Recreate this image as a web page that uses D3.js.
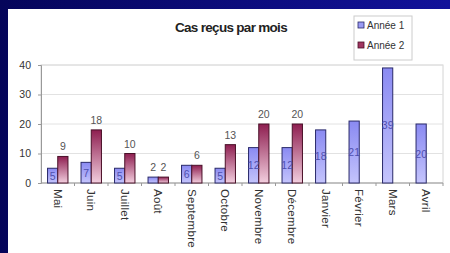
<!DOCTYPE html>
<html>
<head>
<meta charset="utf-8">
<script src="https://cdn.jsdelivr.net/npm/d3@7"></script>
<style>
  html, body { margin: 0; padding: 0; background: #0b0b78; }
  svg { display: block; font-family: "Liberation Sans", Arial, sans-serif; }
</style>
</head>
<body>
<svg id="chart" width="450" height="253"></svg>
<script>
var mois = ['Mai', 'Juin', 'Juillet', 'Août', 'Septembre', 'Octobre', 'Novembre',
            'Décembre', 'Janvier', 'Février', 'Mars', 'Avril'];
var annee1 = [5, 7, 5, 2, 6, 5, 12, 12, 18, 21, 39, 20];
var annee2 = [9, 18, 10, 2, 6, 13, 20, 20, null, null, null, null];
var series = ['Année 1', 'Année 2'];
var yTicks = [0, 10, 20, 30, 40];

var margin = {top: 65, right: 7, bottom: 70, left: 41},
    width = 450 - margin.left - margin.right,
    height = 253 - margin.top - margin.bottom;

var svg = d3.select('#chart');

// background: dark blue frame + white slide
var defs = svg.append('defs');
var bg = defs.append('linearGradient').attr('id', 'bg').attr('x1', 0).attr('y1', 0).attr('x2', 1).attr('y2', 0);
bg.append('stop').attr('offset', '0%').attr('stop-color', '#05055a');
bg.append('stop').attr('offset', '100%').attr('stop-color', '#12129a');
svg.append('rect').attr('width', 450).attr('height', 253).attr('fill', 'url(#bg)');
svg.append('rect').attr('x', 8).attr('y', 9).attr('width', 442).attr('height', 244).attr('fill', '#fff');

var gBlue = defs.append('linearGradient').attr('id', 'gBlue').attr('x1', 0).attr('y1', 0).attr('x2', 0).attr('y2', 1);
gBlue.append('stop').attr('offset', '0%').attr('stop-color', '#8a8af2');
gBlue.append('stop').attr('offset', '100%').attr('stop-color', '#c4c4fc');
var gRed = defs.append('linearGradient').attr('id', 'gRed').attr('x1', 0).attr('y1', 0).attr('x2', 0).attr('y2', 1);
gRed.append('stop').attr('offset', '0%').attr('stop-color', '#8e1e50');
gRed.append('stop').attr('offset', '100%').attr('stop-color', '#f2cede');

var x = d3.scaleBand().domain(mois).range([0, width]).padding(0);
var x1 = d3.scaleBand().domain(series).range([0, x.bandwidth()]).paddingInner(0).paddingOuter(0.64);
var y = d3.scaleLinear().domain([0, 40]).range([height, 0]);

var g = svg.append('g').attr('transform', 'translate(' + margin.left + ',' + margin.top + ')');

// plot area border + gridlines
g.append('rect').attr('width', width).attr('height', height)
  .attr('fill', 'none').attr('stroke', '#d4d4d4');
g.append('g')
  .selectAll('line')
  .data(yTicks.slice(1))
  .enter().append('line')
    .attr('x1', 0).attr('x2', width)
    .attr('y1', function(d) { return y(d); })
    .attr('y2', function(d) { return y(d); })
    .attr('stroke', '#e2e2e2');

// y axis
var yAxis = g.append('g')
  .call(d3.axisLeft(y).tickValues(yTicks).tickSize(3).tickPadding(7));
yAxis.select('.domain').attr('stroke', '#999');
yAxis.selectAll('.tick line').attr('stroke', '#999');
yAxis.selectAll('.tick text').attr('font-size', 10.5).attr('fill', '#333')
  .attr('font-family', '"Liberation Sans", Arial, sans-serif');

// x axis line and boundary ticks
g.append('line').attr('x1', 0).attr('x2', width).attr('y1', height).attr('y2', height).attr('stroke', '#999');
g.append('g')
  .selectAll('line')
  .data(mois)
  .enter().append('line')
    .attr('x1', function(d) { return x(d) + x.bandwidth(); })
    .attr('x2', function(d) { return x(d) + x.bandwidth(); })
    .attr('y1', height).attr('y2', height + 3)
    .attr('stroke', '#999');

// bars
var rows = mois.map(function(m, i) { return {mois: m, v: [annee1[i], annee2[i]]}; });
var groups = g.selectAll('.grp')
  .data(rows)
  .enter().append('g')
    .attr('transform', function(d) { return 'translate(' + x(d.mois) + ',0)'; });

groups.selectAll('rect')
  .data(function(d) { return series.map(function(s, k) { return {s: s, v: d.v[k]}; }).filter(function(e) { return e.v != null; }); })
  .enter().append('rect')
    .attr('x', function(d) { return x1(d.s); })
    .attr('y', function(d) { return y(d.v); })
    .attr('width', x1.bandwidth())
    .attr('height', function(d) { return height - y(d.v); })
    .attr('fill', function(d) { return d.s === series[0] ? 'url(#gBlue)' : 'url(#gRed)'; })
    .attr('stroke', function(d) { return d.s === series[0] ? '#2a2a6a' : '#4a1028'; })
    .attr('stroke-width', 1);

// value labels
groups.selectAll('text.val')
  .data(function(d) { return series.map(function(s, k) { return {s: s, v: d.v[k]}; }).filter(function(e) { return e.v != null; }); })
  .enter().append('text')
    .attr('class', 'val')
    .attr('x', function(d) { return x1(d.s) + x1.bandwidth() / 2; })
    .attr('y', function(d) {
      if (d.s === series[0] && d.v > 2) return (y(d.v) + height) / 2 + 4;
      return y(d.v) - 6;
    })
    .attr('text-anchor', 'middle')
    .attr('font-size', 10.5)
    .attr('fill', function(d) { return (d.s === series[0] && d.v > 2) ? '#4f4fae' : '#555'; })
    .text(function(d) { return d.v; });

// month labels, rotated
g.append('g')
  .selectAll('text')
  .data(mois)
  .enter().append('text')
    .attr('transform', function(d) { return 'translate(' + (x(d) + x.bandwidth() / 2 - 4) + ',' + (height + 6) + ') rotate(90)'; })
    .attr('font-size', 11.5)
    .attr('letter-spacing', 0.3)
    .attr('fill', '#333')
    .text(function(d) { return d; });

// title
svg.append('text')
  .attr('x', 231).attr('y', 32)
  .attr('text-anchor', 'middle')
  .attr('font-size', 13.5)
  .attr('font-weight', 'bold')
  .attr('letter-spacing', -0.7)
  .attr('fill', '#222')
  .text('Cas reçus par mois');

// legend
var lg = svg.append('g').attr('transform', 'translate(354,16)');
lg.append('rect').attr('width', 58).attr('height', 44).attr('fill', '#fff').attr('stroke', '#ccc');
var li = lg.selectAll('.li')
  .data(series)
  .enter().append('g')
    .attr('transform', function(d, i) { return 'translate(4,' + (12 + i * 20) + ')'; });
li.append('rect').attr('x', 0).attr('y', -6).attr('width', 6).attr('height', 6)
  .attr('fill', function(d, i) { return i === 0 ? '#9a9af4' : '#a03560'; })
  .attr('stroke', function(d, i) { return i === 0 ? '#2a2a6a' : '#4a1028'; })
  .attr('stroke-width', 0.8);
li.append('text').attr('x', 9).attr('y', 0.5)
  .attr('font-size', 10).attr('fill', '#333')
  .text(function(d) { return d; });
</script>
</body>
</html>
